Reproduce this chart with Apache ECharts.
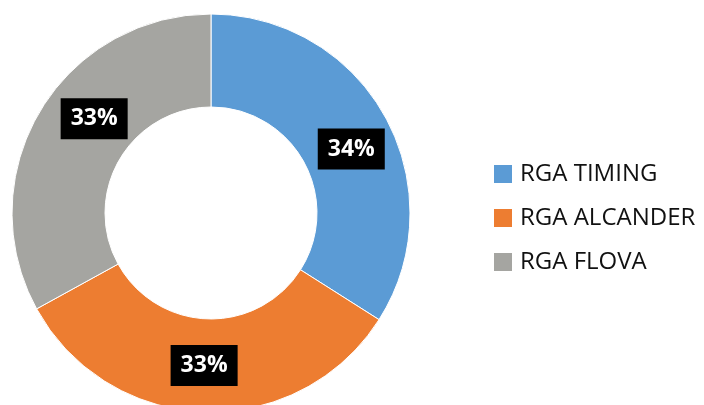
<!DOCTYPE html>
<html>
<head>
<meta charset="utf-8">
<script src="https://cdn.jsdelivr.net/npm/echarts@6/dist/echarts.min.js"></script>
<style>
  html, body { margin: 0; padding: 0; background: #fff; }
  #chart { width: 704px; height: 405px; }
</style>
</head>
<body>
<div id="chart"></div>
<script>
  var names = ['RGA TIMING', 'RGA ALCANDER', 'RGA FLOVA'];
  var values = [34, 33, 33];
  var colors = ['#5B9BD5', '#ED7D31', '#A5A5A1'];

  var data = [];
  for (var i = 0; i < names.length; i++) {
    data.push({ name: names[i], value: values[i] });
  }

  // nudge labels to where the original (excel-ish) chart placed them
  var labelNudge = [[4, 11], [-2, -3], [17, -15]];

  var myChart = echarts.init(document.getElementById('chart'));
  myChart.setOption({
    animation: false,
    color: colors,
    legend: {
      orient: 'vertical',
      left: 492,
      top: 162,
      padding: 0,
      itemWidth: 20,
      itemHeight: 20,
      itemGap: 20,
      icon: 'rect',
      data: names,
      textStyle: {
        fontFamily: 'Open Sans',
        fontSize: 24,
        lineHeight: 20,
        color: '#111',
        padding: [0, 0, 0, 2]
      }
    },
    series: [
      {
        type: 'pie',
        center: [211, 213],
        radius: [106, 199],
        startAngle: 90,
        clockwise: true,
        data: data,
        itemStyle: { borderColor: '#fff', borderWidth: 1 },
        label: {
          show: true,
          position: 'inside',
          formatter: '{d}%',
          fontFamily: 'Open Sans',
          fontWeight: 'bold',
          fontSize: 23,
          color: '#fff',
          backgroundColor: '#000',
          lineHeight: 23,
          padding: [9, 10, 9, 10]
        },
        labelLine: { show: false },
        labelLayout: function (p) {
          var n = labelNudge[p.dataIndex] || [0, 0];
          return {
            x: p.labelRect.x + p.labelRect.width / 2 + n[0],
            y: p.labelRect.y + p.labelRect.height / 2 + n[1]
          };
        }
      }
    ]
  });
</script>
</body>
</html>
